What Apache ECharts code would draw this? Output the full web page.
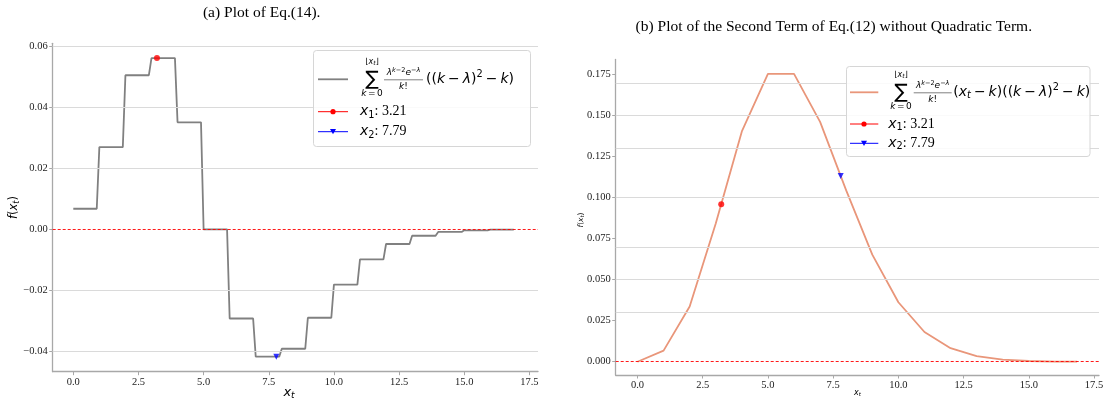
<!DOCTYPE html>
<html><head><meta charset="utf-8">
<script src="https://cdn.jsdelivr.net/npm/echarts@6/dist/echarts.min.js"></script>
<style>html,body{margin:0;padding:0;background:#fff}#c{width:1103px;height:402px}</style>
</head><body><div id="c"></div>
<script>
// ---------------- data ----------------
const stepK = [0,1,2,3,4,5,6,7,8,9,10,11,12,13,14,15,16];
const stepValues = [0.00674,0.02695,0.05053,0.05615,0.03509,0.0000,-0.02925,-0.04178,-0.03917,-0.02901,-0.01813,-0.00989,-0.00482,-0.00212,-0.00086,-0.00032,-0.00011];
const stepFlat = 0.9;            // flat length of each step (sampling grid 0.1)
const curveX = [0,1,2,3,4,5,6,7,8,9,10,11,12,13,14,15,16,16.85];
const curveValues = [0,0.00674,0.03369,0.08422,0.14037,0.17547,0.17547,0.14622,0.10444,0.06528,0.03626,0.01813,0.00824,0.00342,0.00130,0.00043,0.00011,0.00001];
const pointX = [3.21, 7.79];
const leftPointValues = [0.05615, -0.04178];
const rightPointValues = [0.09602, 0.11322];
const xTicks = [0,2.5,5,7.5,10,12.5,15,17.5];
const leftYTicks = [-0.04,-0.02,0,0.02,0.04,0.06];
const rightYTicks = [0,0.025,0.05,0.075,0.1,0.125,0.15,0.175];
const titles = ['(a) Plot of Eq.(14).', '(b) Plot of the Second Term of Eq.(12) without Quadratic Term.'];
const pointLabels = [': 3.21', ': 7.79'];

// ---------------- helpers ----------------
const SANS='DejaVu Sans', SERIF='Liberation Serif';
const AX='#a8a8a8', GRIDC='#dadada';
const LEFTC='#808080', RIGHTC='#E9967A';
const mctx=document.createElement('canvas').getContext('2d');
function P(t,s,o){return Object.assign({t:t,s:s},o||{});}
function GAP(g){return {gap:g};}
function pw(p){ if(p.gap!=null) return p.gap; mctx.font=(p.it?'italic ':'')+p.s+'px "'+(p.f||SANS)+'"'; return mctx.measureText(p.t).width; }
function totalW(parts){return parts.reduce((a,p)=>a+pw(p),0);}
function seq(x,y,parts,out){ let cx=x; for(const p of parts){ const w=pw(p); if(p.gap==null){ out.push({type:'text',x:cx,y:y+(p.dy||0),z:100,silent:true,style:{text:p.t,fontSize:p.s,fontFamily:p.f||SANS,fontStyle:p.it?'italic':'normal',fill:'#000',align:'left',verticalAlign:'middle'}}); } cx+=w; } return cx; }
function seqC(cx,y,parts,out){ return seq(cx-totalW(parts)/2,y,parts,out); }

const G=[];
function sumBlock(cx,cy){
  seqC(cx,cy-17,[P('⌊',8),P('x',8,{it:1}),P('t',6,{it:1,dy:1.5}),P('⌋',8)],G);
  G.push({type:'text',x:cx,y:cy+0.5,z:100,silent:true,style:{text:'∑',fontSize:20,fontFamily:SANS,align:'center',verticalAlign:'middle',fill:'#000'}});
  seqC(cx,cy+14.5,[P('k',9,{it:1}),GAP(1.5),P('=',9),GAP(1.5),P('0',9)],G);
}
function fracBlock(x0,x1,cy){
  const cx=(x0+x1)/2;
  seqC(cx,cy-6.5,[P('λ',9,{it:1}),P('k',6.5,{it:1,dy:-2.5}),P('−2',6.5,{dy:-2.5}),P('e',9,{it:1}),P('−',6.5,{dy:-2.5}),P('λ',6.5,{it:1,dy:-2.5})],G);
  G.push({type:'line',z:100,silent:true,shape:{x1:x0+1,y1:cy+0.5,x2:x1-1,y2:cy+0.5},style:{stroke:'#000',lineWidth:0.5}});
  seqC(cx,cy+7.5,[P('k',9,{it:1}),P('!',9)],G);
}
const quad=[P('(',14),P('(',14),P('k',14,{it:1}),GAP(3),P('−',14),GAP(3),P('λ',14,{it:1}),P(')',14),P('2',9.8,{dy:-5}),GAP(3),P('−',14),GAP(3),P('k',14,{it:1}),P(')',14)];
function legendBox(x,y,w,h){ G.push({type:'rect',z:99,silent:true,shape:{x:x,y:y,width:w,height:h,r:3},style:{fill:'rgba(255,255,255,0.85)',stroke:'#d6d6d6',lineWidth:1}}); }
function lineSample(x0,x1,y,color,lw){ G.push({type:'line',z:100,silent:true,shape:{x1:x0,y1:y,x2:x1,y2:y},style:{stroke:color,lineWidth:lw}}); }
function dot(cx,cy){ G.push({type:'circle',z:101,silent:true,shape:{cx:cx,cy:cy,r:2.6},style:{fill:'#ff0000'}}); }
function tri(cx,cy){ G.push({type:'polygon',z:101,silent:true,shape:{points:[[cx-3,cy-2.6],[cx+3,cy-2.6],[cx,cy+2.6]]},style:{fill:'#0000ff'}}); }
function pointEntry(x,y,i){ seq(x,y,[P('x',14,{it:1}),P(String(i+1),9.8,{dy:3.5}),P(pointLabels[i],14,{f:SERIF})],G); }

// left legend
legendBox(313.5,50.5,217,96);
lineSample(318,348,79.3,LEFTC,1.8);
sumBlock(372,79.3);
fracBlock(383,424,79.3);
seq(426,79.3,quad,G);
lineSample(318,348,111.7,'#ff0000',1); dot(333,111.7); pointEntry(360,111.7,0);
lineSample(318,348,131.7,'#0000ff',1); tri(333,131.7); pointEntry(360,131.7,1);

// right legend
legendBox(846.5,66.5,243.5,90);
lineSample(850,878.3,92.3,RIGHTC,1.8);
sumBlock(901,92.3);
fracBlock(912.7,952.7,92.3);
seq(953.3,92.3,[P('(',14),P('x',14,{it:1}),P('t',9.8,{it:1,dy:3}),GAP(3),P('−',14),GAP(3),P('k',14,{it:1}),P(')',14)].concat(quad),G);
lineSample(850,878.3,124,'#ff0000',1); dot(864,124); pointEntry(888.3,124,0);
lineSample(850,878.3,143.3,'#0000ff',1); tri(864,143.3); pointEntry(888.3,143.3,1);

// titles
G.push({type:'text',x:261.7,y:13.3,z:100,silent:true,style:{text:titles[0],fontSize:15.5,fontFamily:SERIF,fill:'#000',align:'center',verticalAlign:'middle'}});
G.push({type:'text',x:833.8,y:26.7,z:100,silent:true,style:{text:titles[1],fontSize:15.5,fontFamily:SERIF,fill:'#000',align:'center',verticalAlign:'middle'}});

// axis titles
seqC(289,393,[P('x',13,{it:1}),P('t',9,{it:1,dy:3})],G);
seqC(857.5,393,[P('x',8,{it:1}),P('t',5.5,{it:1,dy:2})],G);
function yLabel(cx,cy,s){
  const kids=[]; const parts=[P('f',s,{it:1}),P('(',s),P('x',s,{it:1}),P('t',s*0.7,{it:1,dy:s*0.25}),P(')',s)];
  seqC(0,0,parts,kids);
  G.push({type:'group',x:cx,y:cy,rotation:Math.PI/2,children:kids});
}
yLabel(14,207.5,11.5);
yLabel(581,220,7.5);

// ---------------- series data ----------------
const stepData=[];
stepK.forEach((k,i)=>{ stepData.push([k,stepValues[i]]); stepData.push([k+stepFlat,stepValues[i]]); });
const curveData=curveX.map((x,i)=>[x,curveValues[i]]);

function xAxisCfg(gi,min,max){
  return {type:'value',gridIndex:gi,min:min,max:max,
    axisLine:{show:true,onZero:false,lineStyle:{color:AX,width:1.3}},
    axisTick:{show:true,inside:false,length:3.5,customValues:xTicks,lineStyle:{color:AX,width:1}},
    axisLabel:{show:true,customValues:xTicks,formatter:v=>v.toFixed(1),fontFamily:SERIF,fontSize:10.5,color:'#222',margin:5},
    splitLine:{show:false}};
}
function yAxisCfg(gi,min,max,ticks,dec){
  return {type:'value',gridIndex:gi,min:min,max:max,
    axisLine:{show:true,onZero:false,lineStyle:{color:AX,width:1.3}},
    axisTick:{show:true,inside:false,length:3.5,customValues:ticks,lineStyle:{color:AX,width:1}},
    axisLabel:{show:true,customValues:ticks,formatter:v=>v.toFixed(dec).replace('-','−'),fontFamily:SERIF,fontSize:10.5,color:'#222',margin:5},
    splitLine:{show:false}};
}
function gridSeries(gi,ticks){
  return {type:'line',xAxisIndex:gi,yAxisIndex:gi,data:[],z:1,silent:true,
    markLine:{silent:true,symbol:'none',animation:false,label:{show:false},
      data:ticks.filter(v=>v!==0).map(v=>({yAxis:v,lineStyle:{color:GRIDC,width:1,type:'solid'}}))
        .concat([{yAxis:0,lineStyle:{color:'#ff0000',width:0.9,type:[3,2]}}])}};
}

const chart=echarts.init(document.getElementById('c'),null,{renderer:'canvas',devicePixelRatio:1});
chart.setOption({
  animation:false,
  backgroundColor:'#fff',
  grid:[
    {left:52.7,top:43.3,width:485.3,height:328.4,containLabel:false,outerBoundsMode:'none'},
    {left:615.7,top:59.5,width:483.3,height:315.5,containLabel:false,outerBoundsMode:'none'}
  ],
  xAxis:[xAxisCfg(0,-0.79,17.83),xAxisCfg(1,-0.835,17.69)],
  yAxis:[yAxisCfg(0,-0.0467,0.061,leftYTicks,2),yAxisCfg(1,-0.0081,0.18424,rightYTicks,3)],
  series:[
    gridSeries(0,leftYTicks),
    gridSeries(1,rightYTicks),
    {type:'line',xAxisIndex:0,yAxisIndex:0,data:stepData,showSymbol:false,symbol:'none',z:3,lineStyle:{color:LEFTC,width:1.8}},
    {type:'line',xAxisIndex:1,yAxisIndex:1,data:curveData,showSymbol:false,symbol:'none',z:3,lineStyle:{color:RIGHTC,width:1.8}},
    {type:'scatter',xAxisIndex:0,yAxisIndex:0,data:[[pointX[0],leftPointValues[0]]],symbol:'circle',symbolSize:6,z:4,itemStyle:{color:'#ff0000'}},
    {type:'scatter',xAxisIndex:0,yAxisIndex:0,data:[[pointX[1],leftPointValues[1]]],symbol:'triangle',symbolRotate:180,symbolSize:6,z:4,itemStyle:{color:'#0000ff'}},
    {type:'scatter',xAxisIndex:1,yAxisIndex:1,data:[[pointX[0],rightPointValues[0]]],symbol:'circle',symbolSize:6,z:4,itemStyle:{color:'#ff0000'}},
    {type:'scatter',xAxisIndex:1,yAxisIndex:1,data:[[pointX[1],rightPointValues[1]]],symbol:'triangle',symbolRotate:180,symbolSize:6,z:4,itemStyle:{color:'#0000ff'}}
  ],
  graphic:{elements:G}
});
</script></body></html>
